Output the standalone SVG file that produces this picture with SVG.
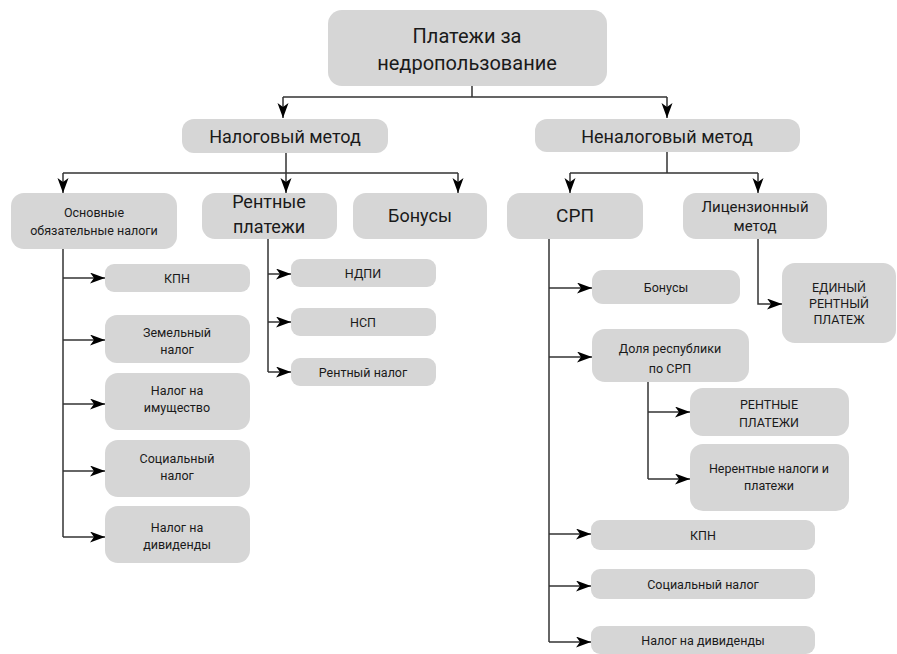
<svg xmlns="http://www.w3.org/2000/svg" width="897" height="654" viewBox="0 0 897 654">
<style>
.box{fill:#d6d6d6}
text{font-family:Roboto,"Noto Sans","Liberation Sans",sans-serif;fill:#1a1a1a;text-anchor:middle}
.s{font-size:12.5px}
.m{font-size:15px}
.l{font-size:18px}
.xl{font-size:20px}
.c{fill:none;stroke:#333;stroke-width:1.5}
</style>
<defs>
<marker id="a" markerUnits="userSpaceOnUse" markerWidth="16" markerHeight="12" refX="15" refY="5.5" orient="auto">
<path d="M0,0 L15,5.5 L0,11 L4,5.5 z" fill="#000"/>
</marker>
</defs>
<g id="connectors">
<path class="c" d="M472,86 V97 M283,97 H667" />
<path class="c" d="M283,97 V118" marker-end="url(#a)"/>
<path class="c" d="M667,97 V118" marker-end="url(#a)"/>
<path class="c" d="M286,153 V173 M63,173 H458"/>
<path class="c" d="M63,173 V193" marker-end="url(#a)"/>
<path class="c" d="M286,173 V193" marker-end="url(#a)"/>
<path class="c" d="M458,173 V193" marker-end="url(#a)"/>
<path class="c" d="M667,152 V173 M570,173 H758"/>
<path class="c" d="M570,173 V193" marker-end="url(#a)"/>
<path class="c" d="M758,173 V193" marker-end="url(#a)"/>
<path class="c" d="M63,249 V537"/>
<path class="c" d="M63,278 H105" marker-end="url(#a)"/>
<path class="c" d="M63,340 H105" marker-end="url(#a)"/>
<path class="c" d="M63,404 H105" marker-end="url(#a)"/>
<path class="c" d="M63,471 H105" marker-end="url(#a)"/>
<path class="c" d="M63,537 H105" marker-end="url(#a)"/>
<path class="c" d="M268,239 V372"/>
<path class="c" d="M268,274 H291" marker-end="url(#a)"/>
<path class="c" d="M268,322 H291" marker-end="url(#a)"/>
<path class="c" d="M268,372 H291" marker-end="url(#a)"/>
<path class="c" d="M549,239 V642"/>
<path class="c" d="M549,288 H592" marker-end="url(#a)"/>
<path class="c" d="M549,357 H592" marker-end="url(#a)"/>
<path class="c" d="M549,534 H591" marker-end="url(#a)"/>
<path class="c" d="M549,586 H591" marker-end="url(#a)"/>
<path class="c" d="M549,642 H591" marker-end="url(#a)"/>
<path class="c" d="M648,382 V479"/>
<path class="c" d="M648,412 H690" marker-end="url(#a)"/>
<path class="c" d="M648,479 H690" marker-end="url(#a)"/>
<path class="c" d="M758,239 V304 H782" marker-end="url(#a)"/>
</g>
<g id="root"><rect class="box" x="328" y="10" width="279" height="76" rx="14"/><text class="xl" x="467" y="43">Платежи за</text><text class="xl" x="467" y="70">недропользование</text></g>
<g id="tax"><rect class="box" x="182" y="119" width="206" height="34" rx="12"/><text class="l" x="285" y="143">Налоговый метод</text></g>
<g id="nontax"><rect class="box" x="535" y="119" width="265" height="33" rx="12"/><text class="l" x="667" y="143">Неналоговый метод</text></g>
<g id="basic"><rect class="box" x="11" y="193" width="166" height="56" rx="13"/><text class="s" x="94" y="217">Основные</text><text class="s" x="94" y="235">обязательные налоги</text></g>
<g id="rent"><rect class="box" x="202" y="193" width="135" height="46" rx="13"/><text class="l" x="269" y="208">Рентные</text><text class="l" x="269" y="233">платежи</text></g>
<g id="bonus"><rect class="box" x="353" y="193" width="134" height="46" rx="13"/><text class="l" x="420" y="222">Бонусы</text></g>
<g id="srp"><rect class="box" x="507" y="193" width="136" height="46" rx="13"/><text class="l" x="575" y="222" style="font-size:19px">СРП</text></g>
<g id="license"><rect class="box" x="683" y="193" width="144" height="46" rx="13"/><text class="m" x="755" y="212">Лицензионный</text><text class="m" x="755" y="231">метод</text></g>
<g id="kpn1"><rect class="box" x="105" y="264" width="145" height="28" rx="9"/><text class="s" x="177" y="283">КПН</text></g>
<g id="land"><rect class="box" x="105" y="315" width="145" height="48" rx="12"/><text class="s" x="177" y="337">Земельный</text><text class="s" x="177" y="354">налог</text></g>
<g id="property"><rect class="box" x="105" y="373" width="145" height="57" rx="13"/><text class="s" x="177" y="395">Налог на</text><text class="s" x="177" y="412">имущество</text></g>
<g id="social1"><rect class="box" x="105" y="440" width="145" height="57" rx="13"/><text class="s" x="177" y="463">Социальный</text><text class="s" x="177" y="480">налог</text></g>
<g id="div1"><rect class="box" x="105" y="506" width="145" height="57" rx="13"/><text class="s" x="177" y="532">Налог на</text><text class="s" x="177" y="549">дивиденды</text></g>
<g id="ndpi"><rect class="box" x="291" y="259" width="145" height="28" rx="9"/><text class="s" x="363" y="278">НДПИ</text></g>
<g id="nsp"><rect class="box" x="291" y="308" width="145" height="28" rx="9"/><text class="s" x="363" y="327">НСП</text></g>
<g id="renttax"><rect class="box" x="291" y="358" width="145" height="28" rx="9"/><text class="s" x="363" y="377">Рентный налог</text></g>
<g id="bonus2"><rect class="box" x="592" y="270" width="148" height="34" rx="11"/><text class="s" x="666" y="292">Бонусы</text></g>
<g id="share"><rect class="box" x="592" y="329" width="157" height="53" rx="13"/><text class="s" x="670" y="353">Доля республики</text><text class="s" x="670" y="373">по СРП</text></g>
<g id="single"><rect class="box" x="782" y="263" width="114" height="80" rx="13"/><text class="s" x="839" y="292">ЕДИНЫЙ</text><text class="s" x="839" y="308">РЕНТНЫЙ</text><text class="s" x="839" y="324">ПЛАТЕЖ</text></g>
<g id="rentpay"><rect class="box" x="690" y="388" width="159" height="48" rx="13"/><text class="s" x="769" y="409">РЕНТНЫЕ</text><text class="s" x="769" y="427">ПЛАТЕЖИ</text></g>
<g id="nonrent"><rect class="box" x="690" y="444" width="159" height="67" rx="13"/><text class="s" x="769" y="473">Нерентные налоги и</text><text class="s" x="769" y="490">платежи</text></g>
<g id="kpn2"><rect class="box" x="591" y="520" width="224" height="30" rx="9"/><text class="s" x="703" y="540">КПН</text></g>
<g id="social2"><rect class="box" x="591" y="569" width="224" height="30" rx="9"/><text class="s" x="703" y="589">Социальный налог</text></g>
<g id="div2"><rect class="box" x="591" y="626" width="224" height="28" rx="9"/><text class="s" x="703" y="645">Налог на дивиденды</text></g>
</svg>
